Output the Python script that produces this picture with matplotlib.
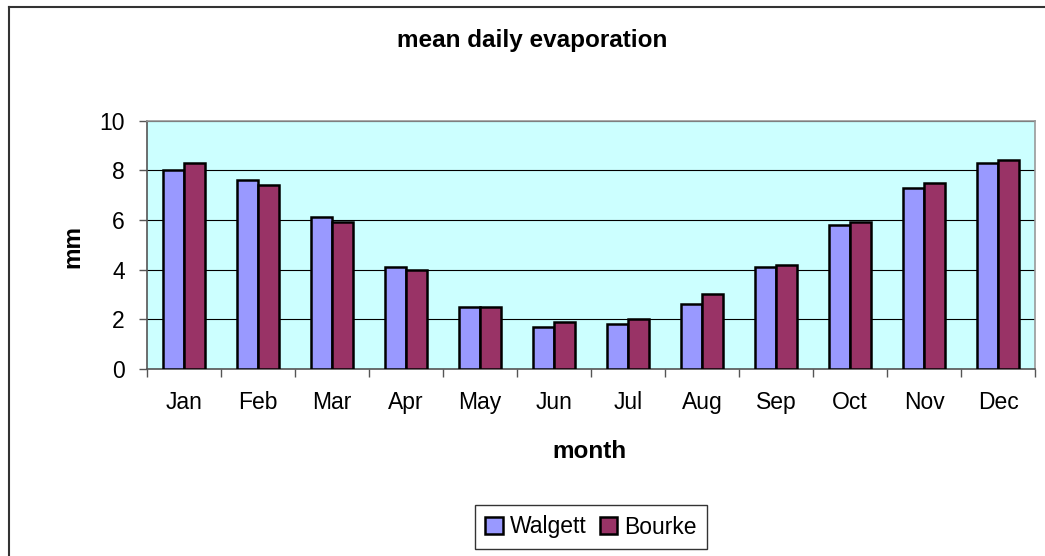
import matplotlib
matplotlib.use("Agg")
import matplotlib.pyplot as plt
from matplotlib.lines import Line2D
from matplotlib.ticker import FixedLocator
import numpy as np

plt.rcParams['font.family'] = ['Liberation Sans', 'DejaVu Sans']

months = ["Jan", "Feb", "Mar", "Apr", "May", "Jun", "Jul", "Aug", "Sep", "Oct", "Nov", "Dec"]
walgett = [8.0, 7.6, 6.1, 4.1, 2.5, 1.7, 1.8, 2.6, 4.1, 5.8, 7.3, 8.3]
bourke = [8.3, 7.4, 5.9, 4.0, 2.5, 1.9, 2.0, 3.0, 4.2, 5.9, 7.5, 8.4]
series_names = ["Walgett", "Bourke"]
yticks = [0, 2, 4, 6, 8, 10]

W, H = 1045, 556
fig = plt.figure(figsize=(W / 100, H / 100), dpi=100)
fig.patch.set_facecolor("white")

ax = fig.add_axes([147 / W, 1 - 369 / H, (1035 - 147) / W, (369 - 120.5) / H])
ax.set_facecolor("#CCFFFF")

x = np.arange(len(months))
bw = 0.29
ax.bar(x - bw / 2, walgett, bw, color="#9999FF", edgecolor="black", linewidth=1.8,
       label=series_names[0], zorder=3)
ax.bar(x + bw / 2, bourke, bw, color="#993366", edgecolor="black", linewidth=1.8,
       label=series_names[1], zorder=3)

fs = 16.5
ax.set_xlim(-0.5, len(months) - 0.5)
ax.set_ylim(0, 10)
ax.set_yticks(yticks)
ax.set_yticklabels([str(v) for v in yticks], fontsize=fs)
ax.yaxis.grid(True, color="black", linewidth=0.8, zorder=1)
ax.set_axisbelow(True)

ax.set_xticks(x)
ax.set_xticklabels(months, fontsize=fs)
ax.xaxis.set_minor_locator(FixedLocator(np.arange(len(months) + 1) - 0.5))
ax.tick_params(axis="x", which="major", length=0, pad=16)
ax.tick_params(axis="x", which="minor", length=6, width=1, color="#555555", direction="out")
ax.tick_params(axis="y", length=6, width=1, color="#555555", pad=10)

for side in ["left", "bottom"]:
    ax.spines[side].set_color("#555555")
    ax.spines[side].set_linewidth(1.2)
for side in ["top", "right"]:
    ax.spines[side].set_color("#999999")
    ax.spines[side].set_linewidth(1.2)

fig.text(532 / W, 1 - 40 / H, "mean daily evaporation", ha="center", va="center",
         fontsize=17.5, fontweight="bold")
fig.text(589 / W, 1 - 451 / H, "month", ha="center", va="center",
         fontsize=17.5, fontweight="bold")
fig.text(73 / W, 1 - 246 / H, "mm", ha="center", va="center", rotation=90,
         fontsize=17.5, fontweight="bold")

leg = ax.legend(loc="center", bbox_to_anchor=(591 / W, 1 - 527 / H),
                bbox_transform=fig.transFigure, ncol=2, fontsize=fs,
                frameon=True, fancybox=False, shadow=False, handlelength=0.75,
                handleheight=0.75, handletextpad=0.3, columnspacing=0.6,
                borderpad=0.45, borderaxespad=0)
leg.get_frame().set_edgecolor("black")
leg.get_frame().set_linewidth(1.0)

# chart-area border (left and top edges visible)
fig.add_artist(Line2D([8.5 / W, 8.5 / W], [0, 1 - 6.5 / H], transform=fig.transFigure,
                      color="#333333", linewidth=1.5))
fig.add_artist(Line2D([8.5 / W, 1], [1 - 6.5 / H, 1 - 6.5 / H], transform=fig.transFigure,
                      color="#333333", linewidth=1.5))

fig.savefig("out.png", dpi=100, facecolor="white")
